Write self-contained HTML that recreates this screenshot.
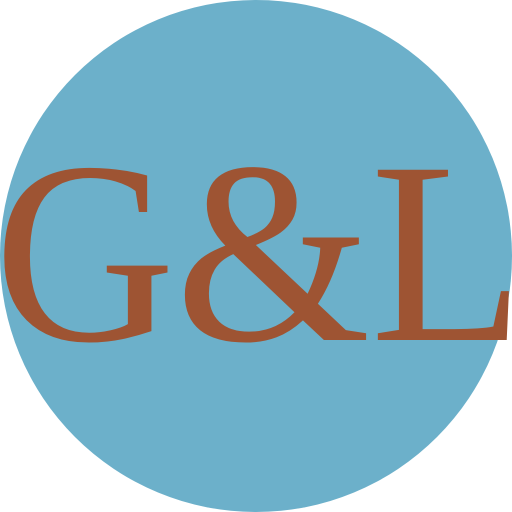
<!DOCTYPE html>
<html><head><meta charset="utf-8"><style>html,body{margin:0;padding:0;background:#fff;}svg{display:block}</style></head>
<body>
<svg width="512" height="512" viewBox="0 0 512 512">
<circle cx="256" cy="256" r="256" fill="#6cb0ca"/>
<text x="-6" y="340" font-family="'Liberation Serif', serif" font-size="260" fill="#9e5433" textLength="530" lengthAdjust="spacingAndGlyphs">G&amp;L</text>
</svg>
</body></html>
